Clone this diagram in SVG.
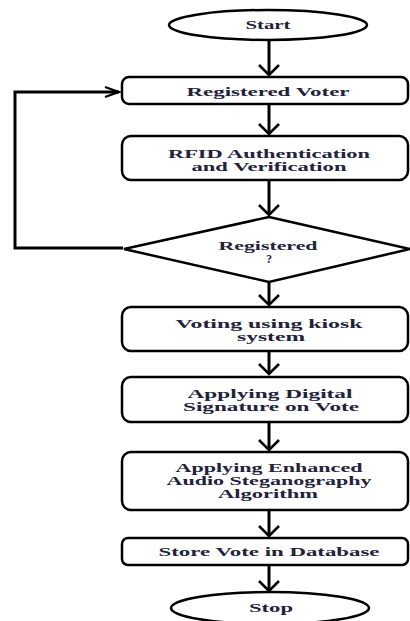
<svg xmlns="http://www.w3.org/2000/svg" width="410" height="621" viewBox="0 0 410 621">
<style>
.shape{fill:#fff;stroke:#000;stroke-width:2.5}
.lbl{font-family:"Liberation Serif","Times New Roman",serif;font-size:11.5px;font-weight:bold;fill:#22223a;text-anchor:middle}
.conn{fill:none;stroke:#000;stroke-width:3}
</style>
<defs>
<marker id="ah" markerUnits="userSpaceOnUse" markerWidth="24" markerHeight="24" refX="11" refY="11" viewBox="0 0 24 24" orient="auto">
<path d="M1,1 L11,11 L1,21" fill="none" stroke="#000" stroke-width="2.6"/>
</marker>
<marker id="ahs" markerUnits="userSpaceOnUse" markerWidth="24" markerHeight="24" refX="15" refY="6" viewBox="0 0 24 12" orient="auto">
<path d="M1,1 L15,6 L1,11" fill="none" stroke="#000" stroke-width="2.2"/>
</marker>
</defs>
<rect width="410" height="621" fill="#fff"/>
<g id="connectors">
<line class="conn" x1="269" y1="41" x2="269" y2="75" marker-end="url(#ah)"/>
<line class="conn" x1="269" y1="105" x2="269" y2="134" marker-end="url(#ah)"/>
<line class="conn" x1="269" y1="181" x2="269" y2="215" marker-end="url(#ah)"/>
<line class="conn" x1="269" y1="283" x2="269" y2="305" marker-end="url(#ah)"/>
<line class="conn" x1="269" y1="352" x2="269" y2="374" marker-end="url(#ah)"/>
<line class="conn" x1="269" y1="423" x2="269" y2="450" marker-end="url(#ah)"/>
<line class="conn" x1="269" y1="511" x2="269" y2="536" marker-end="url(#ah)"/>
<line class="conn" x1="269" y1="566" x2="269" y2="591" marker-end="url(#ah)"/>
<polyline class="conn" points="123,248 15,248 15,92 119,92" marker-end="url(#ahs)"/>
</g>
<g id="start">
<ellipse class="shape" cx="268" cy="25" rx="99" ry="15"/>
<text class="lbl" x="268" y="29" textLength="45" lengthAdjust="spacingAndGlyphs">Start</text>
</g>
<g id="registered-voter">
<rect class="shape" x="122" y="77" width="286" height="27" rx="7"/>
<text class="lbl" x="268" y="96" textLength="163" lengthAdjust="spacingAndGlyphs">Registered  Voter</text>
</g>
<g id="rfid">
<rect class="shape" x="122" y="136" width="286" height="44" rx="9"/>
<text class="lbl" x="269" y="158" textLength="202" lengthAdjust="spacingAndGlyphs">RFID Authentication</text>
<text class="lbl" x="269" y="171" textLength="155" lengthAdjust="spacingAndGlyphs">and Verification</text>
</g>
<g id="decision">
<polygon class="shape" points="269,217 410,249 269,282 124,249"/>
<text class="lbl" x="268" y="250" textLength="99" lengthAdjust="spacingAndGlyphs">Registered</text>
<text class="lbl" x="269" y="263">?</text>
</g>
<g id="voting">
<rect class="shape" x="122" y="307" width="286" height="44" rx="9"/>
<text class="lbl" x="269" y="328" textLength="187" lengthAdjust="spacingAndGlyphs">Voting using kiosk</text>
<text class="lbl" x="271" y="341" textLength="68" lengthAdjust="spacingAndGlyphs">system</text>
</g>
<g id="signature">
<rect class="shape" x="122" y="377" width="286" height="45" rx="9"/>
<text class="lbl" x="270" y="398" textLength="165" lengthAdjust="spacingAndGlyphs">Applying Digital</text>
<text class="lbl" x="271" y="411" textLength="176" lengthAdjust="spacingAndGlyphs">Signature on Vote</text>
</g>
<g id="steganography">
<rect class="shape" x="122" y="452" width="286" height="58" rx="9"/>
<text class="lbl" x="269" y="472" textLength="187" lengthAdjust="spacingAndGlyphs">Applying Enhanced</text>
<text class="lbl" x="269" y="485" textLength="205" lengthAdjust="spacingAndGlyphs">Audio Steganography</text>
<text class="lbl" x="268" y="498" textLength="100" lengthAdjust="spacingAndGlyphs">Algorithm</text>
</g>
<g id="store">
<rect class="shape" x="122" y="538" width="286" height="27" rx="6"/>
<text class="lbl" x="269" y="556" textLength="221" lengthAdjust="spacingAndGlyphs">Store Vote in Database</text>
</g>
<g id="stop">
<ellipse class="shape" cx="270" cy="608" rx="99" ry="16"/>
<text class="lbl" x="271" y="612" textLength="44" lengthAdjust="spacingAndGlyphs">Stop</text>
</g>
</svg>
